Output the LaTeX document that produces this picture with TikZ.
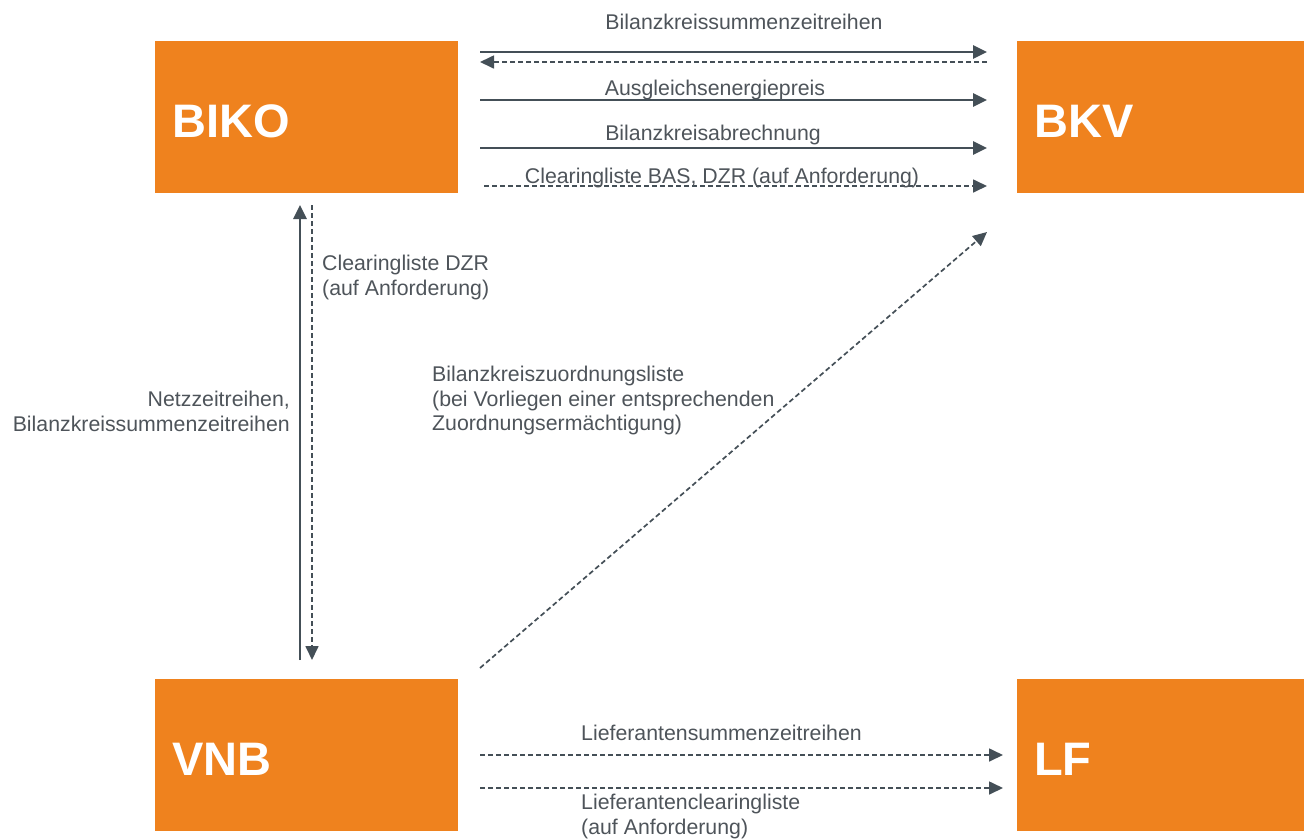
\documentclass[tikz,border=0pt]{standalone}
\usepackage{fontspec}
\setmainfont{Liberation Sans}
\usetikzlibrary{arrows.meta}
\definecolor{roleorange}{RGB}{239,130,30}
\definecolor{arrowgrey}{RGB}{68,79,87}
\definecolor{labelgrey}{RGB}{78,84,90}

\begin{document}
\begin{tikzpicture}[x=1pt,y=-1pt,>={Triangle[length=14pt,width=13pt]},
    role/.style={fill=roleorange, anchor=north west, minimum height=152pt,
      inner xsep=17pt, align=left, text=white, text height=41pt,
      font=\fontsize{47}{50}\selectfont\bfseries},
    flow/.style={->, arrowgrey, line width=2.7pt},
    opt/.style={->, arrowgrey, line width=1.7pt, dash pattern=on 5pt off 3pt},
    lbl/.style={text=labelgrey, inner sep=0pt, font=\fontsize{21.3}{24.5}\selectfont}]
    \useasboundingbox (0,0) rectangle (1304,839);

    % roles
    \node[role, text width=269pt] (biko) at (155,41) {BIKO};
    \node[role, text width=253pt] (bkv) at (1017,41) {BKV};
    \node[role, text width=269pt] (vnb) at (155,679) {VNB};
    \node[role, text width=253pt] (lf) at (1017,679) {LF};

    % arrow ends
    \coordinate (a1) at (480,52);  \coordinate (b1) at (987,52);
    \coordinate (a2) at (480,62);  \coordinate (b2) at (987,62);
    \coordinate (a3) at (480,100); \coordinate (b3) at (987,100);
    \coordinate (a4) at (480,148); \coordinate (b4) at (987,148);
    \coordinate (a5) at (484,186); \coordinate (b5) at (987,186);
    \coordinate (c1) at (300,660); \coordinate (d1) at (300,205);
    \coordinate (c2) at (312,205); \coordinate (d2) at (312,660);
    \coordinate (e1) at (480,668); \coordinate (f1) at (987,232);
    \coordinate (g1) at (480,755); \coordinate (h1) at (1003,755);
    \coordinate (g2) at (480,788); \coordinate (h2) at (1003,788);

    \path
      (a1) edge[flow] (b1)
      (b2) edge[opt] (a2)
      (a3) edge[flow] (b3)
      (a4) edge[flow] (b4)
      (a5) edge[opt] (b5)
      (c1) edge[flow] (d1)
      (c2) edge[opt] (d2)
      (e1) edge[opt] (f1)
      (g1) edge[opt] (h1)
      (g2) edge[opt] (h2)
    ;

    % labels
    \node[lbl, anchor=base] (t1) at (744,29) {Bilanzkreissummenzeitreihen};
    \node[lbl, anchor=base] (t2) at (715,95) {Ausgleichsenergiepreis};
    \node[lbl, anchor=base] (t3) at (713,140) {Bilanzkreisabrechnung};
    \node[lbl, anchor=base] (t4) at (722,183) {Clearingliste BAS, DZR (auf Anforderung)};
    \node[lbl, anchor=north west, align=left] (t5) at (322,255)
      {Clearingliste DZR\\(auf Anforderung)};
    \node[lbl, anchor=north east, align=right] (t6) at (290,391)
      {Netzzeitreihen,\\Bilanzkreissummenzeitreihen};
    \node[lbl, anchor=north west, align=left] (t7) at (432,366)
      {Bilanzkreiszuordnungsliste\\(bei Vorliegen einer entsprechenden\\Zuordnungserm\"achtigung)};
    \node[lbl, anchor=base west] (t8) at (581,740) {Lieferantensummenzeitreihen};
    \node[lbl, anchor=north west, align=left] (t9) at (581,794)
      {Lieferantenclearingliste\\(auf Anforderung)};
\end{tikzpicture}
\end{document}
